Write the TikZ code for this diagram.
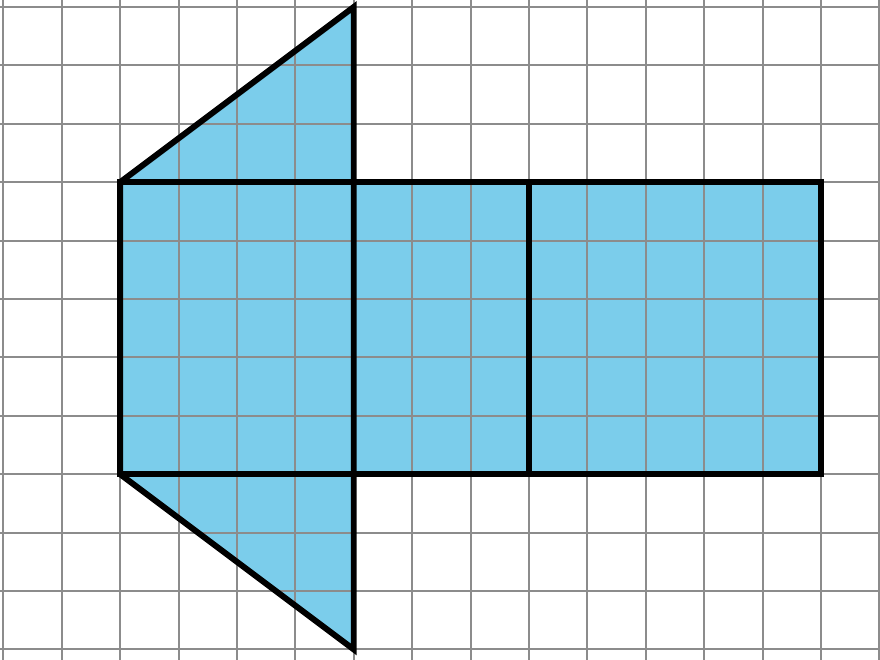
\documentclass[tikz,border=0pt]{standalone}
\definecolor{netblue}{HTML}{7BCDEB}
\definecolor{gridgray}{HTML}{8C8C8C}
\tikzset{
  gridline/.style={draw=gridgray, line width=0.95pt},
  outline/.style={draw=black, line width=2.9pt, line join=miter},
}
\begin{document}
\begin{tikzpicture}[x=1cm,y=1cm]
\useasboundingbox (-0.057,-0.18) rectangle (15.01,11.12);
\clip (-0.057,-0.18) rectangle (15.01,11.12);
% fill
\fill[netblue] (2,8) -- (6,11) -- (6,8) -- (14,8) -- (14,3) -- (6,3) -- (6,0) -- (2,3) -- cycle;
% grid
\foreach \x in {0,...,15} \draw[gridline] (\x,-1) -- (\x,12);
\foreach \y in {-1,...,12} \draw[gridline] (-1,\y) -- (16,\y);
% outlines
\draw[outline] (2,8) -- (6,11) -- (6,0) -- (2,3) -- cycle;
\draw[outline] (2,3) rectangle (14,8);
\draw[outline] (9,3) -- (9,8);
\end{tikzpicture}
\end{document}
